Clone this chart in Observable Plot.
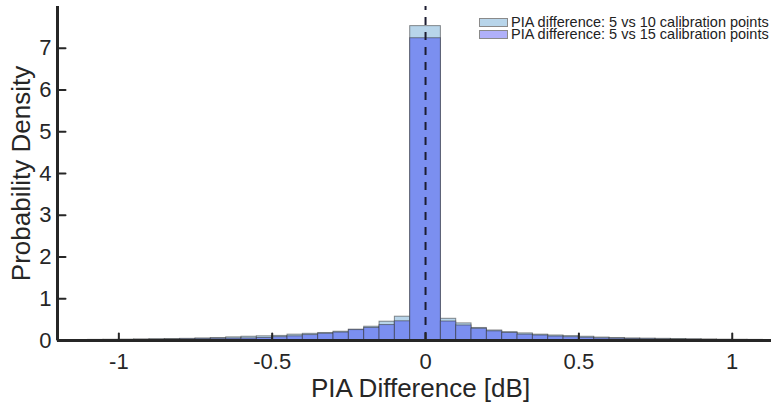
<!DOCTYPE html>
<html><head><meta charset="utf-8">
<script src="https://cdn.jsdelivr.net/npm/d3@7"></script>
<script src="https://cdn.jsdelivr.net/npm/@observablehq/plot@0.6"></script>
<style>
body{margin:0;background:#fff;}
#wrap{position:relative;width:771px;height:405px;overflow:hidden;font-family:"Liberation Sans",Arial,sans-serif;}
#legend{position:absolute;left:479px;top:17px;font-size:14.5px;color:#222;}
.row{display:flex;align-items:center;height:11.5px;line-height:11.5px;white-space:nowrap;}
.sw{width:27px;height:7px;border:1px solid #8a8a8a;margin-right:3px;flex:none;}
</style></head><body><div id="wrap"><div id="legend"></div></div>
<script>
// bin edges (dB); the central bin spans -0.05..0.05
const edges = [-1.2,-1.15,-1.1,-1.05,-1.0,-0.95,-0.9,-0.85,-0.8,-0.75,-0.7,-0.65,-0.6,-0.55,-0.5,-0.45,-0.4,-0.35,-0.3,-0.25,-0.2,-0.15,-0.1,-0.05,
               0.05,0.1,0.15,0.2,0.25,0.3,0.35,0.4,0.45,0.5,0.55,0.6,0.65,0.7,0.75,0.8,0.85,0.9,0.95,1.0,1.05,1.1,1.15,1.2];
// PIA difference: 5 vs 10 calibration points (density per bin)
const density10 = [0.01,0.012,0.015,0.018,0.02,0.025,0.03,0.035,0.04,0.05,0.06,0.075,0.09,0.10,0.11,0.14,0.16,0.18,0.21,0.26,0.33,0.45,0.57,
                   7.53,
                   0.52,0.41,0.30,0.24,0.20,0.17,0.14,0.12,0.105,0.09,0.07,0.06,0.05,0.045,0.04,0.035,0.03,0.025,0.02,0.018,0.015,0.012,0.01];
// PIA difference: 5 vs 15 calibration points
const density15 = [0.006,0.007,0.009,0.011,0.013,0.016,0.019,0.023,0.028,0.033,0.04,0.045,0.05,0.06,0.08,0.10,0.13,0.16,0.19,0.25,0.30,0.37,0.46,
                   7.24,
                   0.455,0.36,0.28,0.22,0.18,0.14,0.12,0.095,0.08,0.065,0.05,0.042,0.036,0.03,0.025,0.021,0.017,0.014,0.011,0.009,0.007,0.006,0.005];
const xTicks = [-1,-0.5,0,0.5,1];
const xTickLabels = ["-1","-0.5","0","0.5","1"];
const yTicks = [0,1,2,3,4,5,6,7];
const seriesNames = ["PIA difference: 5 vs 10 calibration points","PIA difference: 5 vs 15 calibration points"];
const seriesColors = ["#b8d5ea","#7b8ff0"];
const legendColors = ["#b8d5ea","#b0b0f9"];
const xLabel = "PIA Difference [dB]";
const yLabel = "Probability Density";

const bins = (vals) => vals.map((v,i) => ({x1: edges[i], x2: edges[i+1], y: v}));
const tickShape = {draw(ctx, l){ ctx.moveTo(0,0); ctx.lineTo(0,-l); }};
const ink = "#262626";

const chart = Plot.plot({
  width: 771, height: 405,
  marginLeft: 57, marginRight: 0, marginTop: 6, marginBottom: 65,
  style: {fontFamily: '"Liberation Sans", Arial, sans-serif', color: ink, background: "#fff"},
  x: {domain: [-1.2, 1.128]},
  y: {domain: [0, 8]},
  marks: [
    Plot.rectY(bins(density10), {x1: "x1", x2: "x2", y1: 0, y2: "y", fill: seriesColors[0], stroke: "#333", strokeOpacity: 0.55, strokeWidth: 1, clip: true}),
    Plot.rectY(bins(density15), {x1: "x1", x2: "x2", y1: 0, y2: "y", fill: seriesColors[1], stroke: "#333", strokeOpacity: 0.55, strokeWidth: 1, clip: true}),
    Plot.ruleX([0], {y1: 0, y2: 8, stroke: "#1c1c30", strokeWidth: 2, strokeDasharray: "8,7"}),
    Plot.ruleY([0], {stroke: ink, strokeWidth: 3}),
    Plot.ruleX([-1.2], {stroke: ink, strokeWidth: 3}),
    Plot.vector(xTicks, {x: d => d, y: 0, length: 7, rotate: 0, anchor: "start", shape: tickShape, stroke: ink, strokeWidth: 2}),
    Plot.vector(yTicks, {x: -1.2, y: d => d, length: 8, rotate: 90, anchor: "start", shape: tickShape, stroke: ink, strokeWidth: 2}),
    Plot.axisX({ticks: xTicks, tickFormat: d => xTickLabels[xTicks.indexOf(d)], tickSize: 0, tickPadding: 13, fontSize: 22, label: null, fill: ink}),
    Plot.axisY({ticks: yTicks, tickSize: 0, tickPadding: 6, fontSize: 22, label: null, fill: ink}),
    Plot.text([xLabel], {frameAnchor: "bottom", lineAnchor: "middle", textAnchor: "middle", dx: 6, dy: 48, fontSize: 26, fill: ink}),
    Plot.text([yLabel], {frameAnchor: "left", lineAnchor: "middle", textAnchor: "middle", rotate: -90, dx: -36, fontSize: 26, fill: ink})
  ]
});
document.getElementById("wrap").prepend(chart);

const legend = document.getElementById("legend");
seriesNames.forEach((name, i) => {
  const row = document.createElement("div");
  row.className = "row";
  const sw = document.createElement("div");
  sw.className = "sw";
  sw.style.background = legendColors[i];
  const t = document.createElement("span");
  t.textContent = name;
  row.append(sw, t);
  legend.append(row);
});
</script>
</body></html>
